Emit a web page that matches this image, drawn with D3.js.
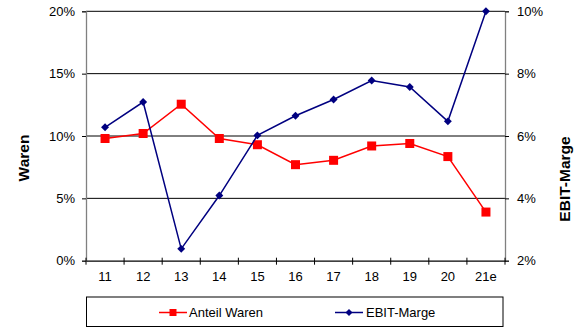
<!DOCTYPE html>
<html>
<head>
<meta charset="utf-8">
<script src="https://cdn.jsdelivr.net/npm/d3@7"></script>
<style>
  html, body { margin: 0; padding: 0; background: #fff; }
  svg { display: block; font-family: Arial, "Liberation Sans", sans-serif; }
</style>
</head>
<body>
<svg id="chart" width="576" height="329"></svg>
<script>
// Years on the category axis
const categories = ["11", "12", "13", "14", "15", "16", "17", "18", "19", "20", "21e"];
// Share of goods (left axis, %)
const anteilWaren = [9.8, 10.2, 12.55, 9.8, 9.3, 7.7, 8.05, 9.2, 9.4, 8.35, 3.9];
// EBIT margin (right axis, %)
const ebitMarge = [6.28, 7.09, 2.38, 4.09, 6.02, 6.65, 7.17, 7.78, 7.57, 6.47, 10.0];
// Axis ticks
const leftTicks = [0, 5, 10, 15, 20];
const rightTicks = [2, 4, 6, 8, 10];

const svg = d3.select("#chart");
const plot = { left: 86, right: 505, top: 11.3, bottom: 260.7 };

const x = d3.scaleBand().domain(categories).range([plot.left, plot.right]);
const yL = d3.scaleLinear().domain([0, 20]).range([plot.bottom, plot.top]);
const yR = d3.scaleLinear().domain([2, 10]).range([plot.bottom, plot.top]);

// Horizontal gridlines
svg.append("g").selectAll("line").data(leftTicks.filter(d => d > 0)).join("line")
  .attr("x1", plot.left).attr("x2", plot.right)
  .attr("y1", d => yL(d)).attr("y2", d => yL(d))
  .attr("stroke", "#000").attr("stroke-width", 1);

const axisColor = "#808080";

// Left axis
const gL = svg.append("g").attr("transform", `translate(${plot.left},0)`)
  .call(d3.axisLeft(yL).tickValues(leftTicks).tickFormat(d => d + "%").tickSize(4).tickPadding(7));
// Right axis
const gR = svg.append("g").attr("transform", `translate(${plot.right},0)`)
  .call(d3.axisRight(yR).tickValues(rightTicks).tickFormat(d => d + "%").tickSize(4).tickPadding(8));
// Bottom axis: ticks on band boundaries
const gB = svg.append("g").attr("transform", `translate(0,${plot.bottom})`)
  .call(d3.axisBottom(x).tickSize(0).tickPadding(11));

[gL, gR, gB].forEach(g => {
  g.select(".domain").attr("stroke", axisColor).attr("stroke-width", 1.3);
  g.selectAll(".tick line").attr("stroke", "#000");
  g.selectAll("text").attr("font-size", 13).attr("fill", "#000")
    .attr("font-family", "Arial, 'Liberation Sans', sans-serif");
});
gB.select(".domain").attr("stroke", "#000");

// Category boundary ticks
const bounds = categories.map(c => x(c)).concat([plot.right]);
svg.append("g").selectAll("line").data(bounds).join("line")
  .attr("x1", d => d).attr("x2", d => d)
  .attr("y1", plot.bottom - 3).attr("y2", plot.bottom + 4)
  .attr("stroke", "#000");

const cx = c => x(c) + x.bandwidth() / 2;

// Share of goods series
const red = "#ff0000", blue = "#000080";
svg.append("path").datum(anteilWaren)
  .attr("fill", "none").attr("stroke", red).attr("stroke-width", 1.5)
  .attr("d", d3.line().x((d, i) => cx(categories[i])).y(d => yL(d)));
svg.append("g").selectAll("rect").data(anteilWaren).join("rect")
  .attr("x", (d, i) => cx(categories[i]) - 4.5).attr("y", d => yL(d) - 4.5)
  .attr("width", 9).attr("height", 9).attr("fill", red);

// EBIT margin series
svg.append("path").datum(ebitMarge)
  .attr("fill", "none").attr("stroke", blue).attr("stroke-width", 1.5)
  .attr("d", d3.line().x((d, i) => cx(categories[i])).y(d => yR(d)));
const diamond = d3.symbol().type(d3.symbolDiamond2).size(40);
svg.append("g").selectAll("path").data(ebitMarge).join("path")
  .attr("transform", (d, i) => `translate(${cx(categories[i])},${yR(d)})`)
  .attr("d", diamond).attr("fill", blue);

// Axis titles
svg.append("text").attr("transform", "translate(28.5,158) rotate(-90)")
  .attr("text-anchor", "middle").attr("font-size", 15.5).attr("font-weight", "bold")
  .text("Waren");
svg.append("text").attr("transform", "translate(570,179) rotate(-90)")
  .attr("text-anchor", "middle").attr("font-size", 15.5).attr("font-weight", "bold")
  .text("EBIT-Marge");

// Legend
const leg = svg.append("g");
leg.append("rect").attr("x", 86.5).attr("y", 297).attr("width", 416.5).attr("height", 29.5)
  .attr("fill", "#fff").attr("stroke", "#000").attr("stroke-width", 1);
const legY = 312.5;
const diamondSmall = d3.symbol().type(d3.symbolDiamond2).size(32);
leg.append("line").attr("x1", 159).attr("x2", 187).attr("y1", legY).attr("y2", legY)
  .attr("stroke", red).attr("stroke-width", 1.5);
leg.append("rect").attr("x", 173 - 3.5).attr("y", legY - 3.5).attr("width", 7).attr("height", 7).attr("fill", red);
leg.append("text").attr("x", 189).attr("y", 317).attr("font-size", 13).text("Anteil Waren");
leg.append("line").attr("x1", 335).attr("x2", 363).attr("y1", legY).attr("y2", legY)
  .attr("stroke", blue).attr("stroke-width", 1.5);
leg.append("path").attr("transform", `translate(349,${legY})`).attr("d", diamondSmall).attr("fill", blue);
leg.append("text").attr("x", 366).attr("y", 317).attr("font-size", 13).text("EBIT-Marge");
</script>
</body>
</html>
